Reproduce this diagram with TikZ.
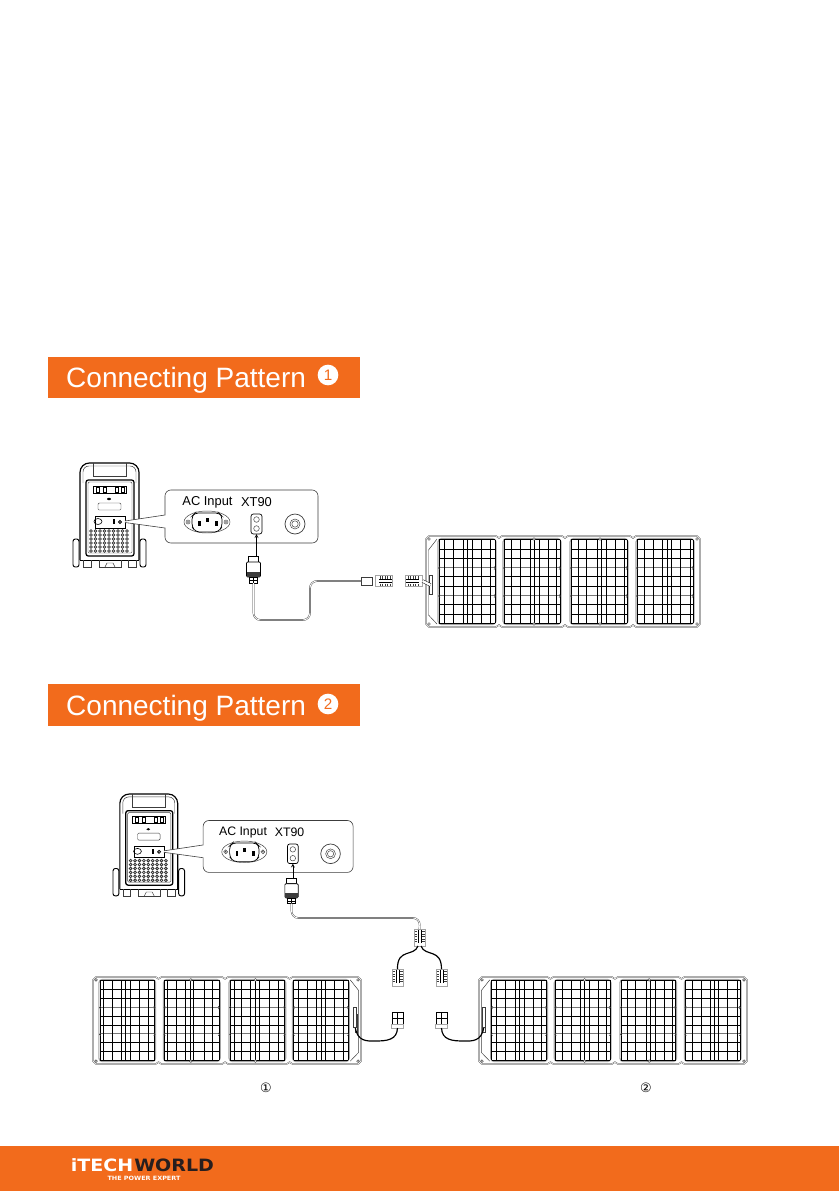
\documentclass[tikz,border=0pt]{standalone}
\usepackage{fontspec}
\setmainfont{Liberation Sans}
\newfontfamily\logofont{DejaVu Sans}
\definecolor{itorange}{RGB}{242,107,28}
\definecolor{itdark}{RGB}{40,30,30}
\definecolor{itline}{RGB}{60,60,60}
\definecolor{itgray}{RGB}{165,165,165}
\tikzset{
  headerbar/.style={fill=itorange, minimum width=9.36cm, minimum height=1.24cm, inner sep=0pt},
  headertext/.style={text=white, font=\fontsize{23.9}{26}\selectfont, anchor=west, inner sep=0pt},
  numdot/.style={circle, fill=white, text=itorange, minimum size=0.62cm, inner sep=0pt, font=\fontsize{13}{14}\selectfont},
  porttext/.style={font=\fontsize{11}{12}\selectfont, inner sep=0pt},
  thinline/.style={draw=itline, line width=0.4pt},
  cable/.style={draw=itline, double=white, line width=0.35pt, double distance=0.7pt, rounded corners=6pt},
  blackwire/.style={draw=black, line width=1pt},
  panelwire/.style={draw=black, double=white, line width=0.4pt, double distance=2pt},
  pics/panel/.style={code={
    % frame
    \draw[thinline, double=white, double distance=0.5pt, line width=0.3pt, fill=white] (3,0) -- (70,0) -- (73,2) -- (76,0) -- (136,0) -- (139,2) -- (142,0)
      -- (204,0) -- (207,2) -- (210,0) -- (271,0) -- (274,3) -- (274,88) -- (271,91) -- (210,91) -- (207,89) -- (204,91) -- (142,91) -- (139,89) -- (136,91)
      -- (76,91) -- (73,89) -- (70,91) -- (3,91) -- (0,88) -- (0,3) -- cycle;
    \draw[thinline] (11,3) -- (2.5,14) -- (2.5,79) -- (11,88);
    % cells
    \foreach \cx/\glist in {13/{0,5,14,24,28,33,42,51,56},78/{0,7,16,26,30,35,44,52,56},145/{0,7,15,26,30,35,44,53,56},211/{0,7,16,25,30,34,43,53,56}} {
      \draw[itgray, line width=1pt, rounded corners=3pt] (\cx-1,2.5) rectangle (\cx+57,88.5);
      \foreach \gy in {3.5,12.8,22.1,40.7,50,68.6,77.9,87.2}
        \draw[black, line width=0.45pt] (\cx,\gy) -- (\cx+56,\gy);
      \foreach \gy in {31.4,59.3}
        \draw[itline!70, line width=0.45pt] (\cx,\gy) -- (\cx+56,\gy);
      \foreach \gx in \glist
        \draw[black, line width=0.5pt] (\cx+\gx,3.5) -- (\cx+\gx,87.2);
      \foreach \gy in {32,60} {
        \draw[itline, line width=0.4pt] (\cx+1,\gy-1.5) -- (\cx-0.5,\gy) -- (\cx+1,\gy+1.5);
        \draw[itline, line width=0.4pt] (\cx+55,\gy-1.5) -- (\cx+56.5,\gy) -- (\cx+55,\gy+1.5);
      }
    }
    % screws
    \foreach \sx/\sy in {3/3,271/3,3/88,271/88,108/3,174/3,108/88,174/88}
      \draw[thinline, fill=white] (\sx,\sy) circle (1.4);
    % handle
    \draw[thinline, fill=white] (3.5,39) rectangle (6,58);
    \coordinate (-handle) at (4.5,49);
  }},
  pics/station/.style={code={
    % handle and body
    \draw[black, line width=1pt, rounded corners=8pt] (7,97) -- (7,0) -- (66,0) -- (66,97);
    \draw[thinline, rounded corners=5pt] (10,20) -- (10,3) -- (63,3) -- (63,20);
    \draw[thinline] (20,0) -- (20,13) -- (53,13) -- (53,0);
    \draw[black, line width=1.1pt, rounded corners=2pt, fill=white] (13,17) rectangle (61,93);
    \draw[thinline, rounded corners=1pt] (15,19) rectangle (59,90);
    % wheels and feet
    \draw[black, line width=0.8pt, rounded corners=2pt, fill=white] (0,76) rectangle (6,104);
    \draw[black, line width=0.8pt, rounded corners=2pt, fill=white] (67,76) rectangle (73,104);
    \draw[black, line width=0.6pt] (7,97) -- (66,97);
    \draw[thinline] (10,97) -- (10,104) -- (18,104) -- (18,97);
    \draw[thinline] (26,97) -- (26,104) -- (48,104) -- (48,97);
    \draw[thinline] (32,104) -- (34,100) -- (40,100) -- (42,104);
    \draw[thinline] (55,97) -- (55,104) -- (63,104) -- (63,97);
    % top row
    \draw[black, line width=0.6pt] (20,23) rectangle (53,30);
    \foreach \bx in {23,30,42,48}
      \draw[black, line width=0.5pt] (\bx,24) rectangle (\bx+3,29);
    \fill[black] (36,36) ellipse (2 and 1.2);
    \draw[thinline, rounded corners=1pt] (25,40) rectangle (48,47);
    % port strip
    \draw[black, line width=0.6pt] (22,53) rectangle (52,65);
    \draw[black, line width=0.5pt] (25,58.5) ellipse (4 and 3);
    \fill[black] (40,56) rectangle (41.5,61);
    \draw[black, line width=0.7pt] (47,59) circle (1.5);
    % vents
    \foreach \vx in {0,...,8}
      \foreach \vy in {0,...,5}
        \draw[black!80, line width=0.7pt] (18+4.5*\vx,68+4*\vy) circle (1.4);
    % callout
    \draw[thinline, line width=0.5pt, rounded corners=0pt, fill=white] (52,58) -- (92,52) [rounded corners=5pt] -- (92,27) -- (245,27) -- (245,80) -- (92,80) [rounded corners=0pt] -- (92,65) -- (52,59.5);
    % AC socket
    \draw[thinline, fill=white] (134,59) ellipse (23 and 11);
    \draw[black, line width=0.6pt, rounded corners=3pt, fill=white] (119,53) -- (122,50) -- (146,50) -- (149,53) -- (149,64) -- (145,69) -- (123,69) -- (119,64) -- cycle;
    \fill[black] (125,58) rectangle (127.5,63);
    \fill[black] (133,55) rectangle (135.5,59);
    \fill[black] (142,58) rectangle (144.5,63);
    \foreach \sx in {115,153} {
      \draw[thinline] (\sx,59) circle (2);
      \fill[itline] (\sx,59) circle (0.8);
    }
    % xt90 port
    \draw[black, line width=0.6pt, rounded corners=2pt] (178,51) rectangle (189,71);
    \draw[thinline] (183.5,56.5) circle (2.8);
    \draw[thinline] (183.5,65.5) circle (2.8);
    \coordinate (-xt) at (183.5,71);
    % round port
    \draw[thinline, line width=0.6pt] (222,61) circle (10);
    \draw[thinline] (222,61) circle (5);
    \draw[thinline] (222,61) circle (3.2);
  }},
  pics/xtplug/.style={code={
    \draw[black, line width=0.6pt, fill=white] (-5,0) rectangle (5,6);
    \draw[black, line width=0.6pt, fill=white, rounded corners=1pt] (-7,6) rectangle (7,21);
    \fill[itline] (-6.5,16) rectangle (6.5,21);
    \draw[black, line width=0.5pt, fill=white] (-4,21) rectangle (4,27);
    \draw[black, line width=0.4pt] (0,21) -- (0,27) (-4,24) -- (4,24);
    \coordinate (-top) at (0,0);
    \coordinate (-tail) at (0,27);
  }},
  pics/anderson/.style={code={
    \draw[itgray, line width=0.5pt, fill=white] (-5.5,-8.5) rectangle (5.5,8.5);
    \foreach \ty in {-6,-3.5,-1,1.5,4}
      \draw[itline, line width=0.3pt] (-5,\ty) -- (-2.5,\ty) (2.5,\ty) -- (5,\ty);
    \draw[black, line width=0.6pt] (-1.5,-8) -- (-1.5,5) (1.5,-8) -- (1.5,5);
    \coordinate (-north) at (0,-8.5);
    \coordinate (-south) at (0,8.5);
  }},
  pics/andersonb/.style={code={
    \draw[black, line width=0.5pt, fill=white] (-5.5,-8) rectangle (5.5,4);
    \draw[black, line width=0.5pt] (0,-8) -- (0,4) (-5.5,-2) -- (5.5,-2);
    \draw[itgray, line width=0.6pt, fill=white] (-6,4) rectangle (6,8);
    \coordinate (-south) at (0,8);
  }},
}
\begin{document}
\begin{tikzpicture}[x=0.03cm, y=-0.03cm, >=stealth]
  \useasboundingbox (0,0) rectangle (839,1191);

  % Headers
  \node[headerbar] (head1) at (204,377.5) {};
  \node[headertext] (title1) at (66,380) {Connecting Pattern};
  \node[numdot] (num1) at (328,375) {1};
  \node[headerbar] (head2) at (204,705) {};
  \node[headertext] (title2) at (66,708) {Connecting Pattern};
  \node[numdot] (num2) at (328,704) {2};

  % Pattern 1
  \pic (st1) at (73,463) {station};
  \node[porttext] (ac1) at (207.5,502) {AC Input};
  \node[porttext] (xt1) at (256.5,502) {XT90};
  \pic (plug1) at (253.5,556) {xtplug};
  \draw[->, black, line width=0.5pt] (st1-xt |- plug1-top) -- (st1-xt);

  \pic[rotate=-90] (con1) at (384,581) {anderson};
  \draw[thinline, fill=white] (361,577) rectangle (372,585);
  \coordinate (sleeve1) at (361,581);
  \pic (pan1) at (426,536) {panel};
  \pic[rotate=90] (con2) at (414,581) {anderson};
  \draw[panelwire] (con2-south) -- (pan1-handle);
  \coordinate (turn1) at (310,620);
  \draw[cable] (plug1-tail) |- (turn1) |- (sleeve1);

  % Pattern 2
  \pic[scale=0.98] (st2) at (113,794) {station};
  \node[porttext, font=\fontsize{10.5}{12}\selectfont] (ac2) at (243,832) {AC Input};
  \node[porttext, font=\fontsize{10.5}{12}\selectfont] (xt2) at (289.5,832) {XT90};
  \pic[scale=0.95] (plug2) at (291.5,878) {xtplug};
  \draw[->, black, line width=0.5pt] (st2-xt |- plug2-top) -- (st2-xt);

  \pic (ysplit) at (419.5,937.5) {anderson};
  \pic (in1) at (397.5,977.5) {anderson};
  \pic (in2) at (441.5,977.5) {anderson};
  \coordinate (turn2) at (420,918);
  \draw[cable] (plug2-tail) |- (turn2) -- (ysplit-north);
  \draw[blackwire] (418,946) .. controls (414,957) and (397,948) .. (in1-north);
  \draw[blackwire] (421,946) .. controls (425,957) and (441.5,948) .. (in2-north);

  \pic[xscale=-0.978, yscale=0.956] (pan2) at (361,977) {panel};
  \pic[xscale=0.978, yscale=0.956] (pan3) at (479,977) {panel};

  \pic (out1) at (397.5,1020) {andersonb};
  \pic (out2) at (441.5,1020) {andersonb};
  \draw[blackwire] (355,1026) .. controls (357,1042) and (367,1041) .. (375,1041) .. controls (387,1041) and (397,1040) .. (out1-south);
  \draw[blackwire] (484,1026) .. controls (482,1042) and (472,1041) .. (464,1041) .. controls (452,1041) and (442,1040) .. (out2-south);
  \draw[thinline, fill=white] (353.5,1007) rectangle (356.5,1027);
  \draw[thinline, fill=white] (482.5,1007) rectangle (485.5,1027);

  \node[font=\logofont\fontsize{11}{12}\selectfont, inner sep=0pt] (mark1) at (266,1088) {①};
  \node[font=\logofont\fontsize{11}{12}\selectfont, inner sep=0pt] (mark2) at (646,1088) {②};

  % Footer
  \fill[itorange] (0,1146) rectangle (839,1191);
  \node[font=\logofont\bfseries\fontsize{14.5}{15}\selectfont, text=white, anchor=east, inner sep=0pt, xscale=1.12] (logo1) at (133.5,1165) {iTECH};
  \node[font=\logofont\bfseries\fontsize{14.5}{15}\selectfont, text=itdark, anchor=west, inner sep=0pt, xscale=1.12] (logo2) at (134,1165) {WORLD};
  \node[font=\logofont\bfseries\fontsize{5}{6}\selectfont, text=white, inner sep=0pt, xscale=1.1] (slogan) at (144,1178) {THE POWER EXPERT};
\end{tikzpicture}
\end{document}
